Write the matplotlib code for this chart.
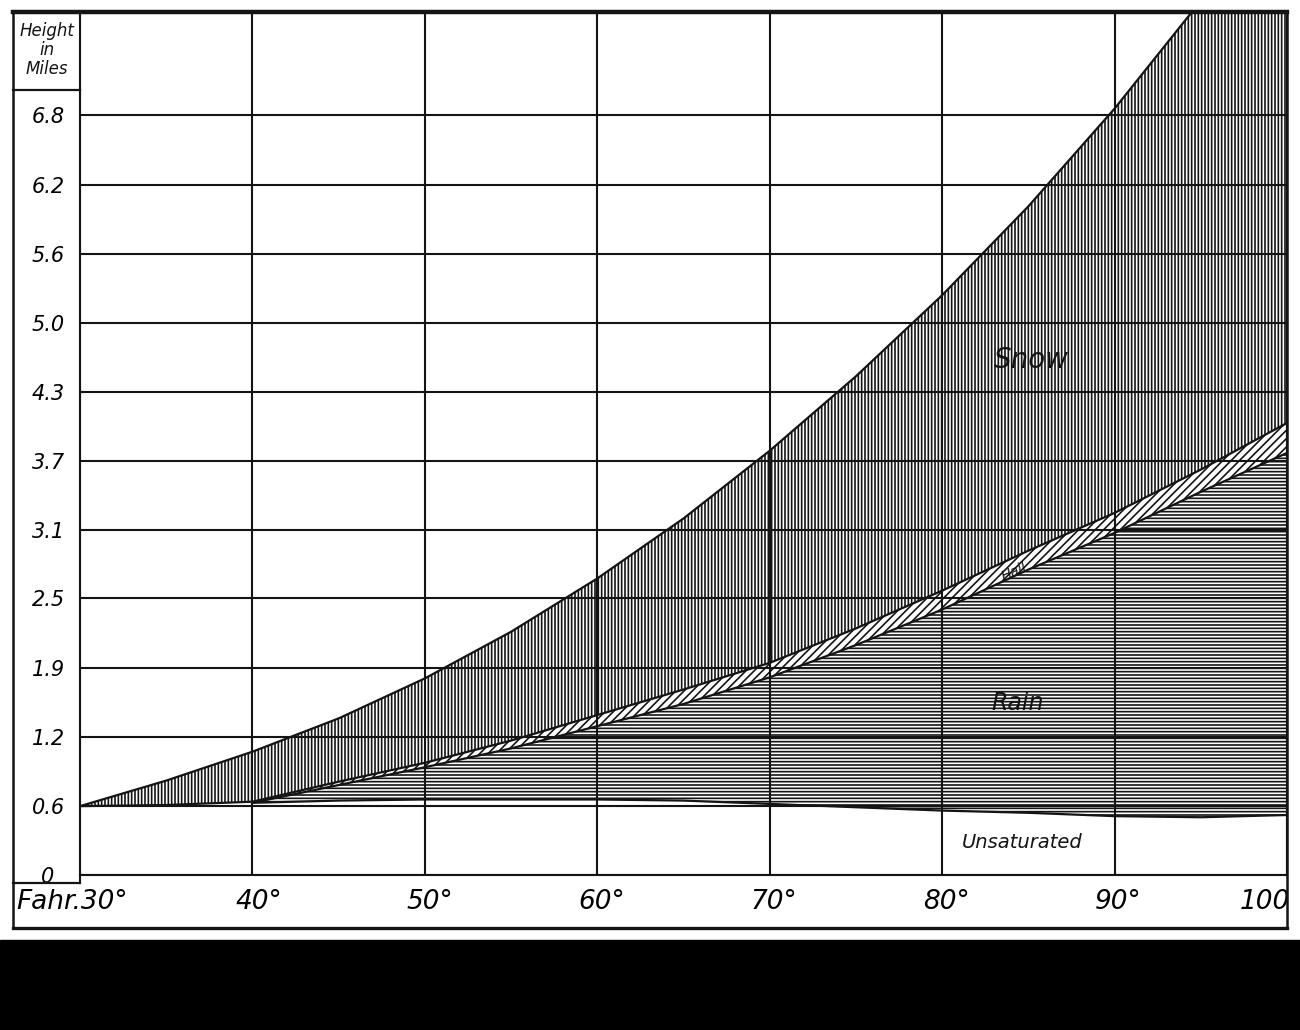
import matplotlib.pyplot as plt
from matplotlib.patches import Rectangle
from matplotlib.transforms import ScaledTranslation

plt.rcParams['font.family'] = 'DejaVu Sans'
plt.rcParams['hatch.linewidth'] = 1.2

INK = '#141414'

# temperature at the ground (deg F) and heights of the stage boundaries (miles)
temps = [30, 35, 40, 45, 50, 55, 60, 65, 70, 75, 80, 85, 90, 95, 100]
snow_top = [0.62, 0.85, 1.11, 1.41, 1.77, 2.19, 2.67, 3.21, 3.82, 4.49, 5.22, 6.02, 6.90, 7.87, 8.91]
hail_top = [0.62, 0.63, 0.66, 0.84, 1.01, 1.21, 1.44, 1.67, 1.91, 2.22, 2.56, 2.92, 3.26, 3.65, 4.07]

# rain stage only starts at about 40 deg
rain_temps = [40, 45, 50, 55, 60, 65, 70, 75, 80, 85, 90, 95, 100]
rain_top = [0.65, 0.81, 0.97, 1.14, 1.34, 1.54, 1.78, 2.07, 2.39, 2.75, 3.08, 3.45, 3.80]
rain_bottom = [0.65, 0.67, 0.68, 0.68, 0.68, 0.67, 0.64, 0.61, 0.58, 0.56, 0.53, 0.52, 0.54]

# y grid is every kilometre, labelled in miles
height_ticks = [0, 0.62, 1.24, 1.86, 2.49, 3.11, 3.73, 4.35, 4.97, 5.59, 6.21, 6.84]
height_labels = ["0", "0.6", "1.2", "1.9", "2.5", "3.1", "3.7", "4.3", "5.0", "5.6", "6.2", "6.8"]
temp_ticks = [30, 40, 50, 60, 70, 80, 90, 100]
temp_labels = ["Fahr.30°", "40°", "50°", "60°", "70°", "80°", "90°", "100"]

fig = plt.figure(figsize=(13, 10.3), dpi=100)
ax = fig.add_axes([80 / 1300, 1 - 875 / 1030, (1287 - 80) / 1300, (875 - 12) / 1030])

ax.fill_between(temps, hail_top, snow_top, facecolor='white', edgecolor=INK,
                hatch='|||||', linewidth=0)
ax.fill_between(rain_temps, rain_top, hail_top[2:], facecolor='white', edgecolor=INK,
                hatch='////', linewidth=0)
ax.fill_between(rain_temps, rain_bottom, rain_top, facecolor='white', edgecolor=INK,
                hatch='-----', linewidth=0)

for xs, ys in [(temps, snow_top), (temps, hail_top), (rain_temps, rain_top),
               (rain_temps, rain_bottom)]:
    ax.plot(xs, ys, color=INK, lw=1.6)

ax.set_xlim(30, 100)
ax.set_ylim(0, 7.77)
ax.set_xticks(temp_ticks, temp_labels)
ax.set_yticks(height_ticks, height_labels)
ax.set_axisbelow(False)
ax.grid(True, color=INK, lw=1.5)
ax.tick_params(length=0)
ax.tick_params(axis='y', pad=23, labelsize=15)
ax.tick_params(axis='x', pad=10, labelsize=19)
for sp in ax.spines.values():
    sp.set_color(INK)
    sp.set_linewidth(1.5)

for lab in ax.get_yticklabels():
    lab.set_ha('center')
    lab.set_fontstyle('italic')

# nudge x labels like the engraving
x_shift = [-8, 6, 5, 4, 4, 4, 4, 3]
for lab, dx in zip(ax.get_xticklabels(), x_shift):
    lab.set_fontstyle('italic')
    lab.set_transform(lab.get_transform() + ScaledTranslation(dx / 100, 0, fig.dpi_scale_trans))
ax.get_xticklabels()[-1].set_ha('right')

ax.text(85.2, 4.64, "Snow", fontsize=20, style='italic', ha='center', va='center', color=INK)
ax.text(84.4, 1.55, "Rain", fontsize=17, style='italic', ha='center', va='center', color=INK)
ax.text(84.65, 0.29, "Unsaturated", fontsize=14, style='italic', ha='center', va='center',
        color=INK)
ax.text(84.2, 2.73, "Hail", fontsize=10, style='italic', ha='center', va='center',
        rotation=24, color=INK)

# frame, label column and header drawn in pixel space
bg = fig.add_axes([0, 0, 1, 1], zorder=5)
bg.set_xlim(0, 1300)
bg.set_ylim(1030, 0)
bg.axis('off')
bg.patch.set_alpha(0)
bg.plot([13, 1287], [12, 12], color=INK, lw=3.2)
bg.plot([13, 13], [12, 928], color=INK, lw=1.8)
bg.plot([1287, 1287], [12, 928], color=INK, lw=1.8)
bg.plot([13, 1287], [928, 928], color=INK, lw=2.4)
bg.plot([13, 80], [90, 90], color=INK, lw=1.6)
bg.plot([80, 80], [875, 883], color=INK, lw=1.5)
bg.plot([13, 80], [883, 883], color=INK, lw=1.6)
bg.text(47, 50, "Height\nin\nMiles", fontsize=12, style='italic', ha='center', va='center',
        linespacing=1.05, color=INK)
bg.add_patch(Rectangle((0, 940), 1300, 90, color='black'))

fig.savefig('out.png', dpi=100, facecolor='white')
